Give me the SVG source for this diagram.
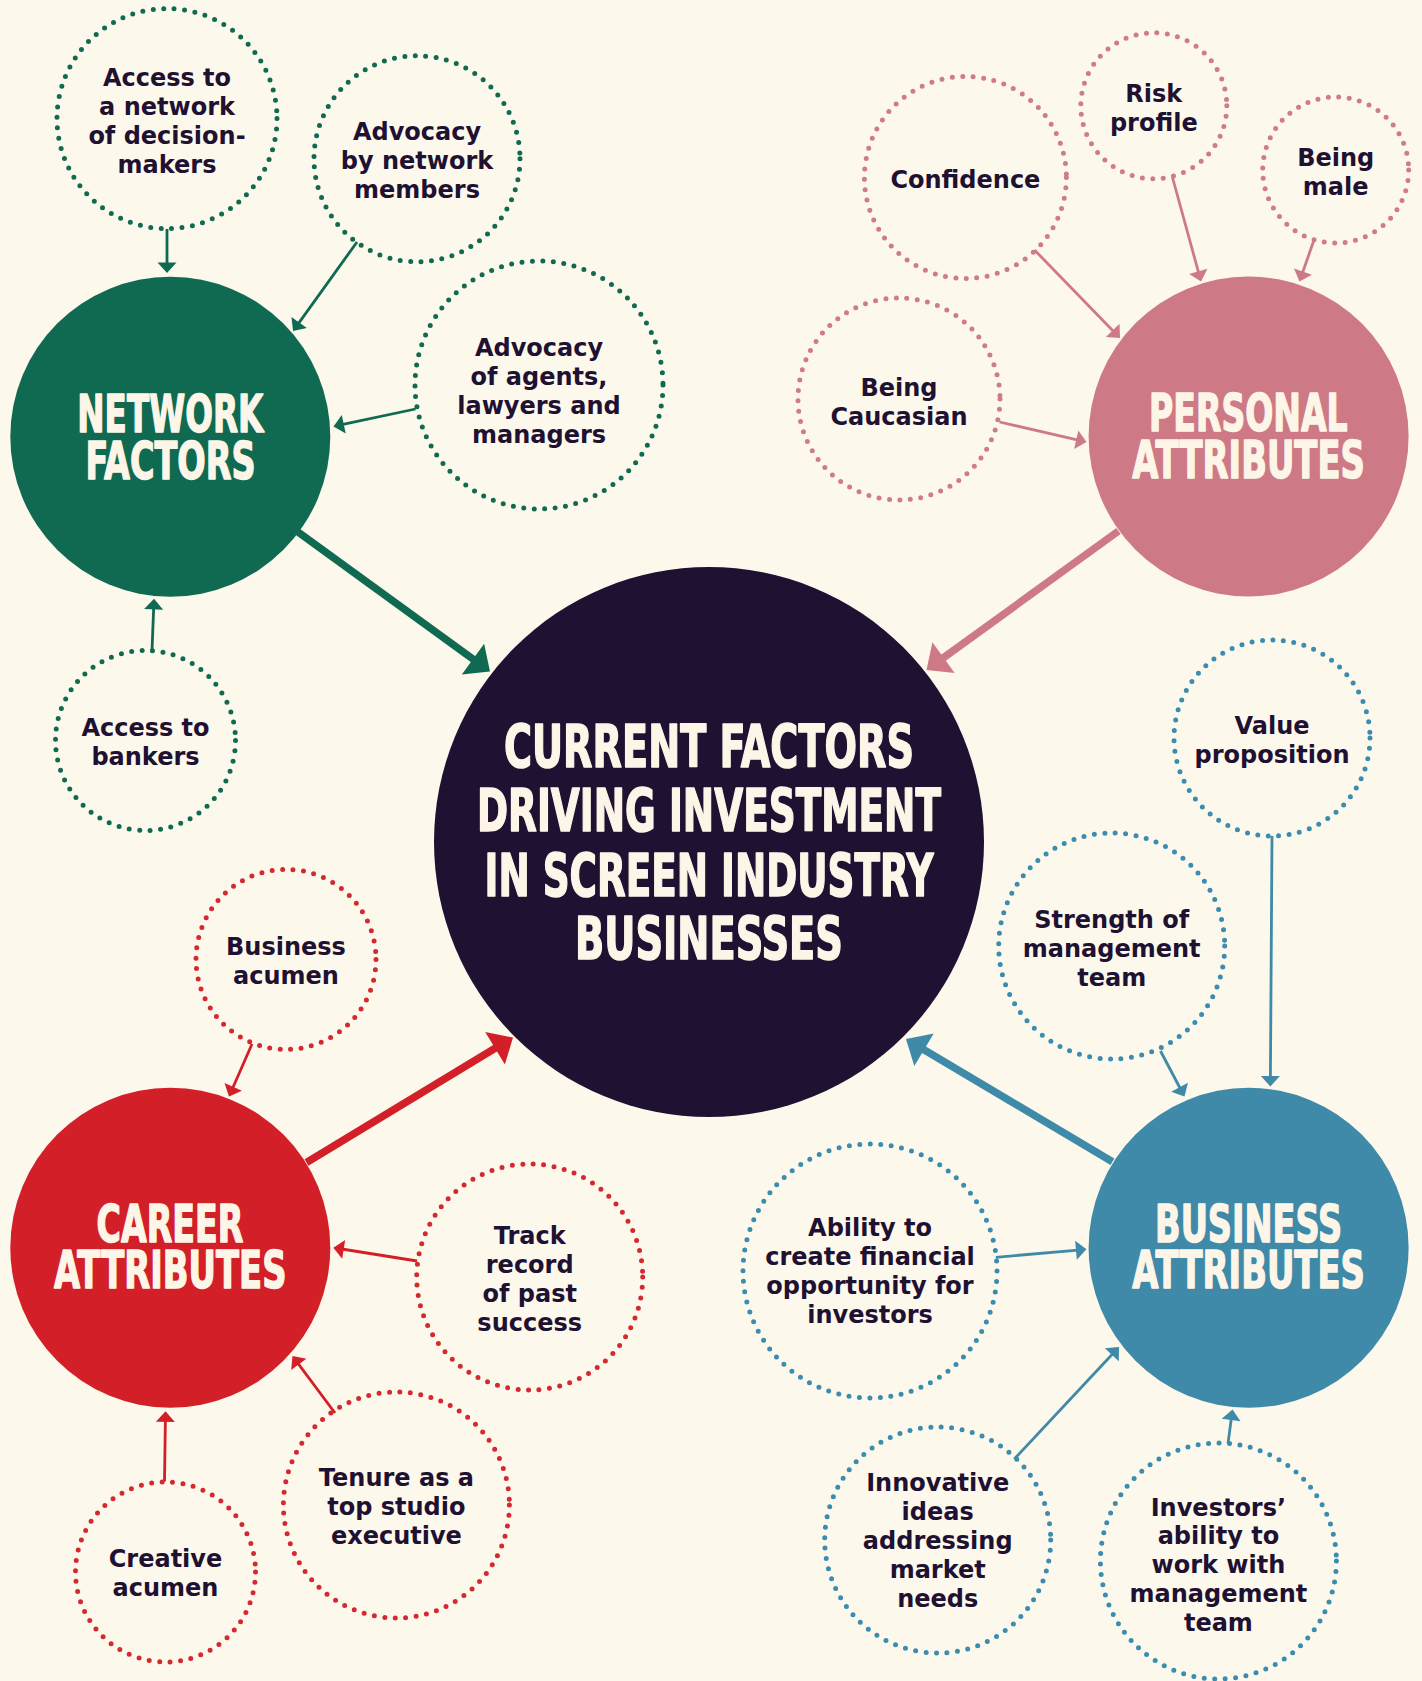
<svg xmlns="http://www.w3.org/2000/svg" width="1422" height="1681" viewBox="0 0 1422 1681">
<style>
.bg{fill:#fdf8ec}
.dg{fill:none;stroke:#106a52;stroke-width:5;stroke-dasharray:0 10.5;stroke-linecap:round}
.dp{fill:none;stroke:#d07b88;stroke-width:5;stroke-dasharray:0 10.5;stroke-linecap:round}
.dr{fill:none;stroke:#d42a2f;stroke-width:5;stroke-dasharray:0 10.5;stroke-linecap:round}
.db{fill:none;stroke:#3a8db0;stroke-width:5;stroke-dasharray:0 10.5;stroke-linecap:round}
.lbl{font-family:"DejaVu Sans","Liberation Sans",sans-serif;font-weight:bold;font-size:24px;fill:#1f1131;text-anchor:middle}
.hub{font-family:"Liberation Sans Narrow","DejaVu Sans Condensed","Liberation Sans",sans-serif;font-weight:bold;font-size:51px;fill:#fdf6e8;stroke:#fdf6e8;stroke-width:1.4;stroke-linejoin:round;text-anchor:middle}
.core{font-family:"Liberation Sans Narrow","DejaVu Sans Condensed","Liberation Sans",sans-serif;font-weight:bold;font-size:58px;fill:#fdf6e8;stroke:#fdf6e8;stroke-width:1.5;stroke-linejoin:round;text-anchor:middle}
.sg{stroke:#106a52;stroke-width:2.8;fill:none;marker-end:url(#hg)}
.sp{stroke:#cd7a86;stroke-width:2.8;fill:none;marker-end:url(#hp)}
.sr{stroke:#d31f27;stroke-width:2.8;fill:none;marker-end:url(#hr)}
.sb{stroke:#3e8aa8;stroke-width:2.8;fill:none;marker-end:url(#hb)}
.mg{stroke:#106a52;stroke-width:7.5;fill:none;marker-end:url(#Hg)}
.mp{stroke:#cd7a86;stroke-width:7.5;fill:none;marker-end:url(#Hp)}
.mr{stroke:#d31f27;stroke-width:7.5;fill:none;marker-end:url(#Hr)}
.mb{stroke:#3e8aa8;stroke-width:7.5;fill:none;marker-end:url(#Hb)}
</style>
<defs>
<marker id="hg" markerUnits="userSpaceOnUse" markerWidth="12" markerHeight="20" refX="2" refY="9.5" orient="auto" overflow="visible"><path d="M0,0 L10.5,9.5 L0,19 Z" fill="#106a52"/></marker>
<marker id="hp" markerUnits="userSpaceOnUse" markerWidth="12" markerHeight="20" refX="2" refY="9.5" orient="auto" overflow="visible"><path d="M0,0 L10.5,9.5 L0,19 Z" fill="#cd7a86"/></marker>
<marker id="hr" markerUnits="userSpaceOnUse" markerWidth="12" markerHeight="20" refX="2" refY="9.5" orient="auto" overflow="visible"><path d="M0,0 L10.5,9.5 L0,19 Z" fill="#d31f27"/></marker>
<marker id="hb" markerUnits="userSpaceOnUse" markerWidth="12" markerHeight="20" refX="2" refY="9.5" orient="auto" overflow="visible"><path d="M0,0 L10.5,9.5 L0,19 Z" fill="#3e8aa8"/></marker>
<marker id="Hg" markerUnits="userSpaceOnUse" markerWidth="22" markerHeight="38" refX="2" refY="19" orient="auto" overflow="visible"><path d="M0,0 L21,19 L0,38 Z" fill="#106a52"/></marker>
<marker id="Hp" markerUnits="userSpaceOnUse" markerWidth="22" markerHeight="38" refX="2" refY="19" orient="auto" overflow="visible"><path d="M0,0 L21,19 L0,38 Z" fill="#cd7a86"/></marker>
<marker id="Hr" markerUnits="userSpaceOnUse" markerWidth="22" markerHeight="38" refX="2" refY="19" orient="auto" overflow="visible"><path d="M0,0 L21,19 L0,38 Z" fill="#d31f27"/></marker>
<marker id="Hb" markerUnits="userSpaceOnUse" markerWidth="22" markerHeight="38" refX="2" refY="19" orient="auto" overflow="visible"><path d="M0,0 L21,19 L0,38 Z" fill="#3e8aa8"/></marker>
</defs>
<rect class="bg" x="0" y="0" width="1422" height="1681"/>

<g id="connectors">
<line class="sg" x1="167" y1="229" x2="167" y2="264.5"/>
<line class="sg" x1="357" y1="242" x2="298" y2="324.1"/>
<line class="sg" x1="415.5" y1="409" x2="341.8" y2="424.7"/>
<line class="sg" x1="152" y1="650.5" x2="153.7" y2="607.3"/>
<line class="mg" x1="298" y1="532" x2="474.6" y2="660.3"/>

<line class="sp" x1="1034.5" y1="250" x2="1114.1" y2="331.9"/>
<line class="sp" x1="1172.5" y1="177.5" x2="1198.8" y2="273.3"/>
<line class="sp" x1="1314.5" y1="238.5" x2="1302.3" y2="273.5"/>
<line class="sp" x1="999.5" y1="422" x2="1078.2" y2="440.1"/>
<line class="mp" x1="1118.5" y1="531" x2="941.9" y2="658.9"/>

<line class="sb" x1="1272" y1="836" x2="1270.4" y2="1078"/>
<line class="sb" x1="1160.5" y1="1051" x2="1180.5" y2="1089"/>
<line class="sb" x1="995.8" y1="1257.3" x2="1078" y2="1250.05"/>
<line class="sb" x1="1014.3" y1="1459" x2="1113.2" y2="1353.2"/>
<line class="sb" x1="1228" y1="1443.5" x2="1231.4" y2="1417.9"/>
<line class="mb" x1="1112.4" y1="1161.8" x2="922.3" y2="1048.7"/>

<line class="sr" x1="252" y1="1044" x2="232.4" y2="1088.7"/>
<line class="sr" x1="417" y1="1261" x2="341.7" y2="1249"/>
<line class="sr" x1="335" y1="1413" x2="297.6" y2="1362.8"/>
<line class="sr" x1="164.5" y1="1481.5" x2="165.4" y2="1419.8"/>
<line class="mr" x1="306.5" y1="1162.5" x2="496.75" y2="1047.3"/>
</g>

<g id="core">
<circle cx="709" cy="842" r="275" fill="#1f1131"/>
<text class="core"><tspan x="709" y="767" textLength="410" lengthAdjust="spacingAndGlyphs">CURRENT FACTORS</tspan><tspan x="709" y="831.4" textLength="464" lengthAdjust="spacingAndGlyphs">DRIVING INVESTMENT</tspan><tspan x="709" y="895.7" textLength="449" lengthAdjust="spacingAndGlyphs">IN SCREEN INDUSTRY</tspan><tspan x="709" y="959.3" textLength="268" lengthAdjust="spacingAndGlyphs">BUSINESSES</tspan></text>
</g>

<g id="network-factors">
<circle cx="170.3" cy="436.7" r="160" fill="#106a52"/>
<text class="hub"><tspan x="170.3" y="431.7" textLength="186" lengthAdjust="spacingAndGlyphs">NETWORK</tspan><tspan x="170.5" y="479" textLength="170" lengthAdjust="spacingAndGlyphs">FACTORS</tspan></text>
</g>
<g id="personal-attributes">
<circle cx="1248.6" cy="436.5" r="160" fill="#cd7a86"/>
<text class="hub"><tspan x="1248.4" y="431.2" textLength="198.6" lengthAdjust="spacingAndGlyphs">PERSONAL</tspan><tspan x="1248.6" y="477.8" textLength="232.5" lengthAdjust="spacingAndGlyphs">ATTRIBUTES</tspan></text>
</g>
<g id="career-attributes">
<circle cx="170.3" cy="1247.7" r="160" fill="#d31f27"/>
<text class="hub"><tspan x="170" y="1242.3" textLength="147" lengthAdjust="spacingAndGlyphs">CAREER</tspan><tspan x="170.3" y="1287.9" textLength="232.5" lengthAdjust="spacingAndGlyphs">ATTRIBUTES</tspan></text>
</g>
<g id="business-attributes">
<circle cx="1248.6" cy="1247.7" r="160" fill="#3e8aa8"/>
<text class="hub"><tspan x="1248.6" y="1242.3" textLength="187" lengthAdjust="spacingAndGlyphs">BUSINESS</tspan><tspan x="1248.6" y="1287.9" textLength="232.5" lengthAdjust="spacingAndGlyphs">ATTRIBUTES</tspan></text>
</g>

<g id="access-network">
<circle class="dg" cx="167" cy="118.6" r="110"/>
<text class="lbl"><tspan x="167" y="85.9">Access to</tspan><tspan x="167" y="114.8">a network</tspan><tspan x="167" y="143.7">of decision-</tspan><tspan x="167" y="172.6">makers</tspan></text>
</g>
<g id="advocacy-network">
<circle class="dg" cx="417" cy="158.8" r="103"/>
<text class="lbl"><tspan x="417" y="140.1">Advocacy</tspan><tspan x="417" y="169">by network</tspan><tspan x="417" y="197.9">members</tspan></text>
</g>
<g id="advocacy-agents">
<circle class="dg" cx="539" cy="385" r="124"/>
<text class="lbl"><tspan x="539" y="356.4">Advocacy</tspan><tspan x="539" y="385.3">of agents,</tspan><tspan x="539" y="414.2">lawyers and</tspan><tspan x="539" y="443.1">managers</tspan></text>
</g>
<g id="access-bankers">
<circle class="dg" cx="145.5" cy="740.5" r="90"/>
<text class="lbl"><tspan x="145.5" y="735.6">Access to</tspan><tspan x="145.5" y="764.5">bankers</tspan></text>
</g>

<g id="confidence">
<circle class="dp" cx="965.4" cy="177.5" r="101"/>
<text class="lbl"><tspan x="965.4" y="187.5">Confidence</tspan></text>
</g>
<g id="risk-profile">
<circle class="dp" cx="1153.8" cy="105.8" r="73"/>
<text class="lbl"><tspan x="1153.8" y="102">Risk</tspan><tspan x="1153.8" y="130.9">profile</tspan></text>
</g>
<g id="being-male">
<circle class="dp" cx="1335.7" cy="170" r="73"/>
<text class="lbl"><tspan x="1335.7" y="166.4">Being</tspan><tspan x="1335.7" y="195.3">male</tspan></text>
</g>
<g id="being-caucasian">
<circle class="dp" cx="899" cy="399" r="101"/>
<text class="lbl"><tspan x="899" y="395.6">Being</tspan><tspan x="899" y="424.5">Caucasian</tspan></text>
</g>

<g id="value-proposition">
<circle class="db" cx="1272" cy="738" r="98"/>
<text class="lbl"><tspan x="1272" y="734.1">Value</tspan><tspan x="1272" y="763">proposition</tspan></text>
</g>
<g id="strength-management">
<circle class="db" cx="1111.7" cy="946" r="113"/>
<text class="lbl"><tspan x="1111.7" y="928">Strength of</tspan><tspan x="1111.7" y="956.9">management</tspan><tspan x="1111.7" y="985.8">team</tspan></text>
</g>
<g id="financial-opportunity">
<circle class="db" cx="870" cy="1271" r="127"/>
<text class="lbl"><tspan x="870" y="1235.9">Ability to</tspan><tspan x="870" y="1264.8">create financial</tspan><tspan x="870" y="1293.7">opportunity for</tspan><tspan x="870" y="1322.6">investors</tspan></text>
</g>
<g id="innovative-ideas">
<circle class="db" cx="937.7" cy="1540" r="113"/>
<text class="lbl"><tspan x="937.7" y="1491.2">Innovative</tspan><tspan x="937.7" y="1520.1">ideas</tspan><tspan x="937.7" y="1549">addressing</tspan><tspan x="937.7" y="1577.9">market</tspan><tspan x="937.7" y="1606.8">needs</tspan></text>
</g>
<g id="investors-ability">
<circle class="db" cx="1218.4" cy="1561" r="118"/>
<text class="lbl"><tspan x="1218.4" y="1515.5">Investors’</tspan><tspan x="1218.4" y="1544.4">ability to</tspan><tspan x="1218.4" y="1573.3">work with</tspan><tspan x="1218.4" y="1602.2">management</tspan><tspan x="1218.4" y="1631.1">team</tspan></text>
</g>

<g id="business-acumen">
<circle class="dr" cx="286" cy="959.4" r="90"/>
<text class="lbl"><tspan x="286" y="954.6">Business</tspan><tspan x="286" y="983.5">acumen</tspan></text>
</g>
<g id="track-record">
<circle class="dr" cx="529.7" cy="1277" r="113"/>
<text class="lbl"><tspan x="529.7" y="1244.4">Track</tspan><tspan x="529.7" y="1273.3">record</tspan><tspan x="529.7" y="1302.2">of past</tspan><tspan x="529.7" y="1331.1">success</tspan></text>
</g>
<g id="tenure">
<circle class="dr" cx="396.4" cy="1505" r="113"/>
<text class="lbl"><tspan x="396.4" y="1485.9">Tenure as a</tspan><tspan x="396.4" y="1514.8">top studio</tspan><tspan x="396.4" y="1543.7">executive</tspan></text>
</g>
<g id="creative-acumen">
<circle class="dr" cx="165.5" cy="1572" r="90"/>
<text class="lbl"><tspan x="165.5" y="1567.1">Creative</tspan><tspan x="165.5" y="1596">acumen</tspan></text>
</g>
</svg>
